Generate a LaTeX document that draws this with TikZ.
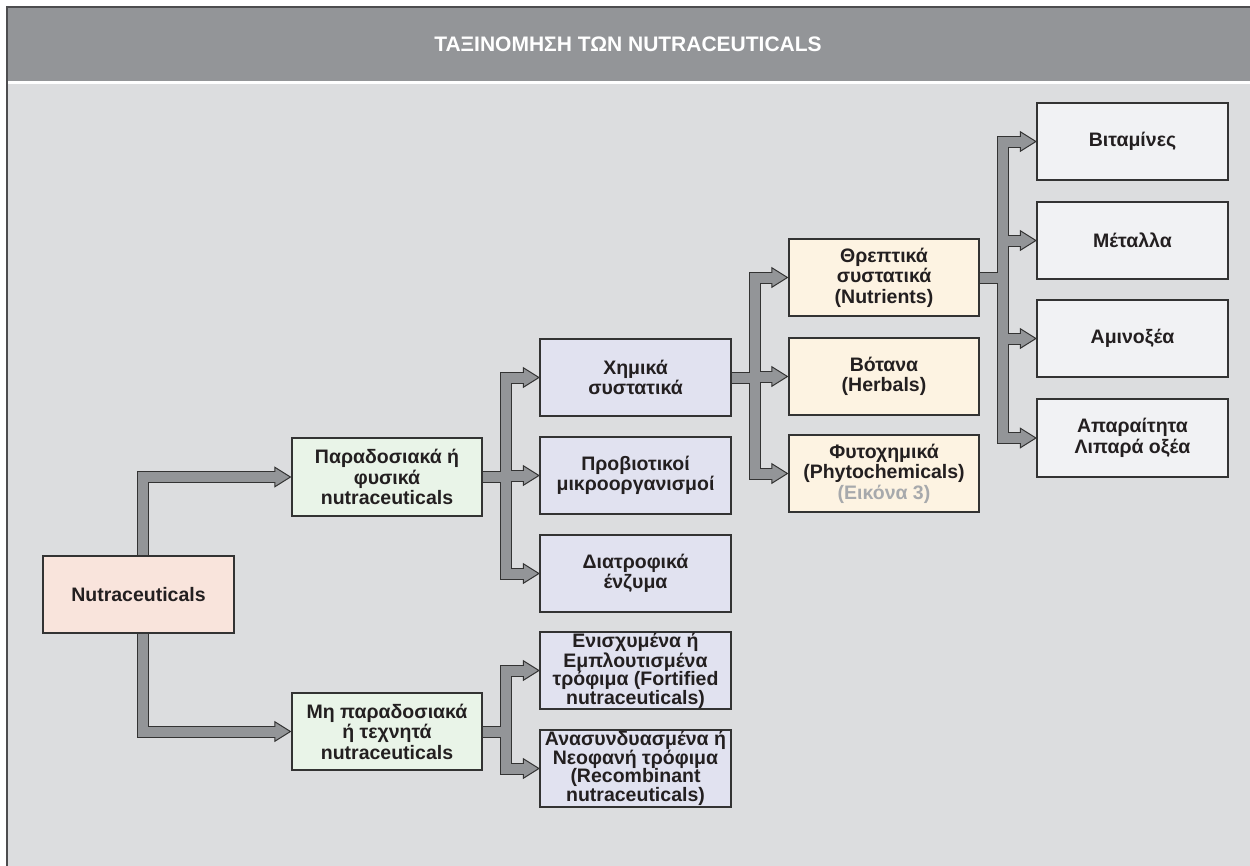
\documentclass[tikz,border=0pt]{standalone}
\usepackage{fontspec}
\setmainfont{Liberation Sans}
\usetikzlibrary{arrows.meta}

\definecolor{headgray}{HTML}{939598}
\definecolor{bodygray}{HTML}{DCDDDF}
\definecolor{framedark}{HTML}{4D4D4F}
\definecolor{pipegray}{HTML}{939598}
\definecolor{pipeedge}{HTML}{333333}
\definecolor{boxedge}{HTML}{333333}
\definecolor{inktext}{HTML}{231F20}
\definecolor{rootfill}{HTML}{F9E4DC}
\definecolor{greenfill}{HTML}{E9F4E8}
\definecolor{lilacfill}{HTML}{E1E2F0}
\definecolor{creamfill}{HTML}{FDF3E2}
\definecolor{palefill}{HTML}{F1F2F4}
\definecolor{notegray}{HTML}{A7A9AC}

\tikzset{
  box/.style={draw=boxedge, line width=1.2pt, minimum width=190pt,
    minimum height=77pt, inner sep=0pt, align=center, text=inktext,
    font=\bfseries\fontsize{19.5}{20.5}\selectfont},
  tightbox/.style={box, font=\bfseries\fontsize{19.5}{18.5}\selectfont},
  rootbox/.style={box, fill=rootfill},
  greenbox/.style={box, fill=greenfill},
  lilacbox/.style={box, fill=lilacfill},
  lilactight/.style={tightbox, fill=lilacfill},
  creambox/.style={box, fill=creamfill},
  palebox/.style={box, fill=palefill},
  headtip/.tip={Triangle[length=17pt, width=21pt, line width=1pt, fill=pipegray]},
}

% every connector path; the styles pipe, endtip and bothtip are set per pass
\newcommand\connectorpaths{%
  % root to the two main groups
  \draw[pipe, endtip] (nutra.north -| v1) |- (trad.west);
  \draw[pipe, endtip] (nutra.south -| v1) |- (nontrad.west);
  % traditional group
  \draw[pipe] (trad.east) -- (trad.east -| v2);
  \draw[pipe, bothtip] (chem.west) -- (chem.west -| v2) -- (enz.west -| v2) -- (enz.west);
  \draw[pipe, endtip] (probio.west -| v2) -- (probio.west);
  % non-traditional group
  \draw[pipe] (nontrad.east) -- (nontrad.east -| v2);
  \draw[pipe, bothtip] (fort.west) -- (fort.west -| v2) -- (recomb.west -| v2) -- (recomb.west);
  % chemical constituents
  \draw[pipe] (chem.east) -- (chem.east -| v3);
  \draw[pipe, bothtip] (nutr.west) -- (nutr.west -| v3) -- (phyto.west -| v3) -- (phyto.west);
  \draw[pipe, endtip] (herb.west -| v3) -- (herb.west);
  % nutrients
  \draw[pipe] (nutr.east) -- (nutr.east -| v4);
  \draw[pipe, bothtip] (vit.west) -- (vit.west -| v4) -- (fatty.west -| v4) -- (fatty.west);
  \draw[pipe, endtip] (met.west -| v4) -- (met.west);
  \draw[pipe, endtip] (amino.west -| v4) -- (amino.west);
}

\begin{document}
\begin{tikzpicture}[x=1pt, y=-1pt]
  \useasboundingbox (0,0) rectangle (1250,865);
  \clip (0,0) rectangle (1250,865);

  % frame: header band, white rule, body
  \fill[white] (0,0) rectangle (1250,865);
  \fill[headgray] (7,7) rectangle (1260,80.5);
  \fill[bodygray] (7,83.5) rectangle (1260,875);
  \draw[framedark, line width=1.6pt] (7,875) -- (7,7) -- (1260,7);

  \node[text=white, font=\bfseries\fontsize{21}{24}\selectfont] (title) at (628,44)
    {ΤΑΞΙΝΟΜΗΣΗ ΤΩΝ NUTRACEUTICALS};

  % vertical bus positions
  \coordinate (v1) at (143,0);
  \coordinate (v2) at (506,0);
  \coordinate (v3) at (754.5,0);
  \coordinate (v4) at (1003,0);

  % boxes
  \node[rootbox]   (nutra)   at (138.5,594.5) {Nutraceuticals};
  \node[greenbox]  (trad)    at (387,477)     {Παραδοσιακά ή\\φυσικά\\nutraceuticals};
  \node[greenbox]  (nontrad) at (387,731.5)   {Μη παραδοσιακά\\ή τεχνητά\\nutraceuticals};
  \node[lilacbox]  (chem)    at (635.5,377.5) {Χημικά\\συστατικά};
  \node[lilacbox]  (probio)  at (635.5,475.5) {Προβιοτικοί\\μικροοργανισμοί};
  \node[lilacbox]  (enz)     at (635.5,573.5) {Διατροφικά\\ένζυμα};
  \node[lilactight](fort)    at (635.5,670.5) {Ενισχυμένα ή\\Εμπλουτισμένα\\τρόφιμα (Fortified\\nutraceuticals)};
  \node[lilactight](recomb)  at (635.5,768.5) {Ανασυνδυασμένα ή\\Νεοφανή τρόφιμα\\(Recombinant\\nutraceuticals)};
  \node[creambox]  (nutr)    at (884,277.5)   {Θρεπτικά\\συστατικά\\(Nutrients)};
  \node[creambox]  (herb)    at (884,376.5)   {Βότανα\\(Herbals)};
  \node[creambox]  (phyto)   at (884,473.5)   {Φυτοχημικά\\(Phytochemicals)\\\textcolor{notegray}{(Εικόνα 3)}};
  \node[palebox]   (vit)     at (1132.5,141.5){Βιταμίνες};
  \node[palebox]   (met)     at (1132.5,240.5){Μέταλλα};
  \node[palebox]   (amino)   at (1132.5,338.5){Αμινοξέα};
  \node[palebox]   (fatty)   at (1132.5,438)  {Απαραίτητα\\Λιπαρά οξέα};

  % connectors: dark outline pass with heads, then grey core pass
  \begin{scope}[
      pipe/.style={line width=12pt, draw=pipeedge},
      endtip/.style={-headtip},
      bothtip/.style={headtip-headtip}]
    \connectorpaths
  \end{scope}
  \begin{scope}[
      pipe/.style={line width=10pt, draw=pipegray},
      endtip/.style={shorten >=15pt},
      bothtip/.style={shorten <=15pt, shorten >=15pt}]
    \connectorpaths
  \end{scope}

  % redraw the boxes above the connector ends
  \foreach \n in {nutra,trad,nontrad,chem,probio,enz,fort,recomb,nutr,herb,phyto,vit,met,amino,fatty}
    \draw[boxedge, line width=1.2pt] (\n.south west) rectangle (\n.north east);
\end{tikzpicture}
\end{document}
